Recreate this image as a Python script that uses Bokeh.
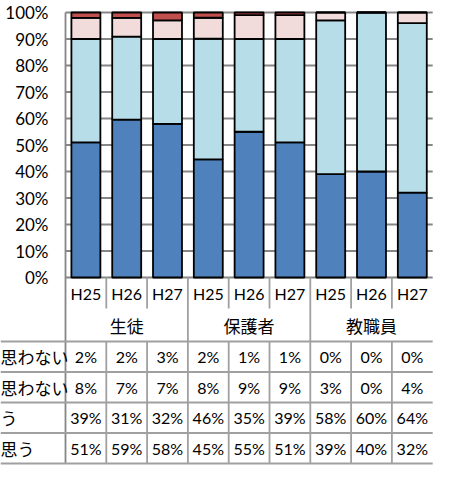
from bokeh.plotting import figure
from bokeh.models import Range1d, ColumnDataSource
from bokeh.core.properties import value
from bokeh.embed import file_html
from bokeh.resources import INLINE

# ---- data ----
years = ["H25", "H26", "H27", "H25", "H26", "H27", "H25", "H26", "H27"]
groups = ["生徒", "保護者", "教職員"]
s_sou = [51, 59, 58, 45, 55, 51, 39, 40, 32]        # bottom series
s_yaya = [39, 31, 32, 46, 35, 39, 58, 60, 64]
s_amari = [8, 7, 7, 8, 9, 9, 3, 0, 4]
s_not = [2, 2, 3, 2, 1, 1, 0, 0, 0]                 # top series
row_labels = ["思わない", "思わない", "う", "思う"]   # table rows, top to bottom
y_ticks = [0, 10, 20, 30, 40, 50, 60, 70, 80, 90, 100]
y_tick_labels = ["0%", "10%", "20%", "30%", "40%", "50%", "60%", "70%", "80%", "90%", "100%"]

# ---- styles ----
colors = ["#4F81BD", "#B7DEE8", "#F2DCDB", "#C0504D"]
GRID = "#868686"
TBL = "#a0a0a0"
LAT = value("Lato")
CJK = value("Noto Sans CJK JP")

W, H = 433, 466
AX_PX = 65.0      # canvas x of the value axis
CW = 40.8         # px per category
TOP_PX = 12.0     # canvas y of 100%
ZERO_PX = 277.0   # canvas y of 0%
PPU = (ZERO_PX - TOP_PX) / 100.0

def ypx(py):
    return (ZERO_PX - py) / PPU

x_start = -AX_PX / CW
x_end = (W - AX_PX) / CW
p = figure(width=W, height=H, x_range=Range1d(x_start, x_end),
           y_range=Range1d(ypx(H), ypx(0)), min_border=0,
           toolbar_location=None, output_backend="svg")
p.xaxis.visible = False
p.yaxis.visible = False
p.xgrid.visible = False
p.ygrid.visible = False
p.outline_line_color = None
p.background_fill_color = "white"

n = len(years)
xc = [i + 0.5 for i in range(n)]

# gridlines
p.segment(x0=[0] * len(y_ticks), x1=[n] * len(y_ticks), y0=y_ticks, y1=y_ticks,
          line_color=GRID, line_width=1.8)

# stacked 100% bars
tot = [a + b + c + d for a, b, c, d in zip(s_sou, s_yaya, s_amari, s_not)]
src = ColumnDataSource(dict(
    x=xc,
    sou=[100.0 * v / t for v, t in zip(s_sou, tot)],
    yaya=[100.0 * v / t for v, t in zip(s_yaya, tot)],
    amari=[100.0 * v / t for v, t in zip(s_amari, tot)],
    no=[100.0 * v / t for v, t in zip(s_not, tot)],
))
p.vbar_stack(["sou", "yaya", "amari", "no"], x="x", width=0.71, color=colors,
             line_color="black", line_width=1.8, source=src)

# y tick labels
p.text(x=[0] * len(y_ticks), y=y_ticks, text=y_tick_labels, x_offset=-17,
       text_align="right", text_baseline="middle", text_font=LAT,
       text_font_size="17px", text_color="#000000")

# ---- data table ----
row_x_bot = ypx(308)
row_g_bot = ypx(341)
rows_px = [341, 371.5, 402, 432.5, 463]
rows = [ypx(v) for v in rows_px]
bottom = rows[-1]

# axis line (left border of table)
p.segment(x0=[0], x1=[0], y0=[100], y1=[bottom], line_color=GRID, line_width=1.8)
# category separators in the year row and group separators
seps_minor = [i for i in range(1, n) if i % 3 != 0]
seps_major = [i for i in range(1, n) if i % 3 == 0]
p.segment(x0=seps_minor, x1=seps_minor, y0=[0] * len(seps_minor),
          y1=[row_x_bot] * len(seps_minor), line_color=TBL, line_width=1.8)
p.segment(x0=seps_minor, x1=seps_minor, y0=[rows[0]] * len(seps_minor),
          y1=[bottom] * len(seps_minor), line_color=TBL, line_width=1.8)
p.segment(x0=seps_major, x1=seps_major, y0=[0] * len(seps_major),
          y1=[bottom] * len(seps_major), line_color=TBL, line_width=1.8)
# horizontal row lines
p.segment(x0=[x_start] * len(rows), x1=[n] * len(rows), y0=rows, y1=rows,
          line_color=TBL, line_width=1.8)

# year labels
p.text(x=xc, y=[(0 + row_x_bot) / 2] * n, text=years, text_align="center",
       text_baseline="middle", text_font=LAT, text_font_size="16px", text_color="#000000")
# group labels
gx = [1.5, 4.5, 7.5]
p.text(x=gx, y=[(row_x_bot + row_g_bot) / 2] * 3, text=groups, text_align="center",
       text_baseline="middle", text_font=CJK, text_font_size="17px", text_color="#000000")

# row labels and values
table_vals = [s_not, s_amari, s_yaya, s_sou]
for r, (lab, vals) in enumerate(zip(row_labels, table_vals)):
    yc = (rows[r] + rows[r + 1]) / 2
    p.text(x=[x_start], y=[yc], text=[lab], text_align="left", text_baseline="middle",
           text_font=CJK, text_font_size="17px", text_color="#000000")
    p.text(x=xc, y=[yc] * n, text=[f"{v}%" for v in vals], text_align="center",
           text_baseline="middle", text_font=LAT, text_font_size="16px", text_color="#000000")

open("out.html", "w").write(file_html(p, INLINE))
